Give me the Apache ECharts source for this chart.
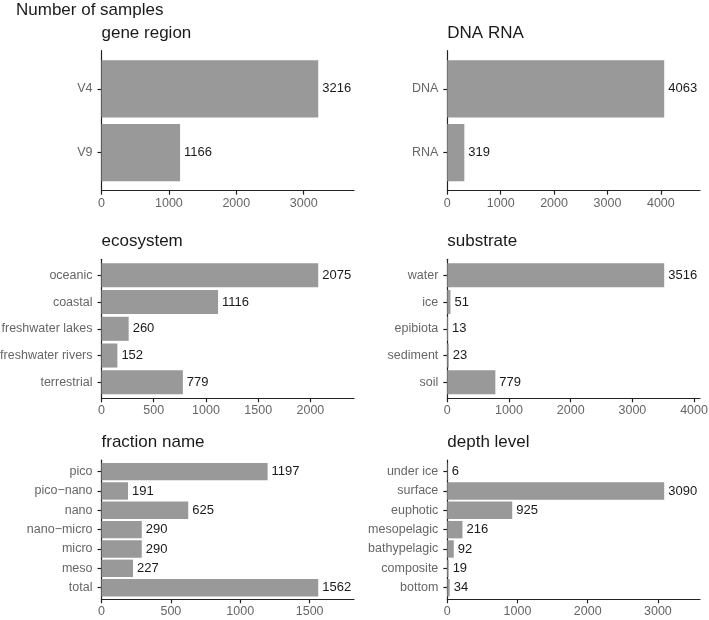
<!DOCTYPE html>
<html>
<head>
<meta charset="utf-8">
<script src="https://cdn.jsdelivr.net/npm/echarts@6/dist/echarts.min.js"></script>
<style>html,body{margin:0;padding:0;background:#fff}#c{width:709px;height:620px}</style>
</head>
<body>
<div id="c"></div>
<script>
// ---- data ----
const mainTitle = "Number of samples";
const panelTitles = ["gene region", "DNA RNA", "ecosystem", "substrate", "fraction name", "depth level"];

const geneRegionCats = ["V4", "V9"];
const geneRegionVals = [3216, 1166];

const dnaRnaCats = ["DNA", "RNA"];
const dnaRnaVals = [4063, 319];

const ecosystemCats = ["oceanic", "coastal", "freshwater lakes", "freshwater rivers", "terrestrial"];
const ecosystemVals = [2075, 1116, 260, 152, 779];

const substrateCats = ["water", "ice", "epibiota", "sediment", "soil"];
const substrateVals = [3516, 51, 13, 23, 779];

const fractionCats = ["pico", "pico\u2212nano", "nano", "nano\u2212micro", "micro", "meso", "total"];
const fractionVals = [1197, 191, 625, 290, 290, 227, 1562];

const depthCats = ["under ice", "surface", "euphotic", "mesopelagic", "bathypelagic", "composite", "bottom"];
const depthVals = [6, 3090, 925, 216, 92, 19, 34];

const tickIntervals = [1000, 1000, 500, 1000, 500, 1000];

// ---- layout ----
const panels = [
  {cats: geneRegionCats, vals: geneRegionVals},
  {cats: dnaRnaCats, vals: dnaRnaVals},
  {cats: ecosystemCats, vals: ecosystemVals},
  {cats: substrateCats, vals: substrateVals},
  {cats: fractionCats, vals: fractionVals},
  {cats: depthCats, vals: depthVals}
];
const lefts = [101.5, 447.3];
const widths = [252.5, 252.7];
const tops = [50.7, 259.3, 460];
const heights = [140, 139, 139.3];

const FONT = "'Liberation Sans', Arial, sans-serif";
const grids = [], xAxes = [], yAxes = [], series = [], titles = [];

titles.push({text: mainTitle, left: 16, top: 2, padding: 0,
  textStyle: {fontFamily: FONT, fontSize: 17, fontWeight: 'normal', color: '#1a1a1a'}});

panels.forEach((p, k) => {
  const col = k % 2, row = Math.floor(k / 2);
  grids.push({left: lefts[col], top: tops[row], width: widths[col], height: heights[row],
    containLabel: false, outerBoundsMode: 'none'});
  titles.push({text: panelTitles[k], left: lefts[col], top: tops[row] - 26, padding: 0,
    textStyle: {fontFamily: FONT, fontSize: 17, fontWeight: 'normal', color: '#1a1a1a'}});
  const maxV = Math.max(...p.vals) * 1.165;
  const iv = tickIntervals[k];
  const ticks = [];
  for (let v = 0; v <= maxV; v += iv) ticks.push(v);
  xAxes.push({
    type: 'value', gridIndex: k, min: 0, max: maxV,
    axisLine: {show: true, lineStyle: {color: '#222', width: 1.2}},
    axisTick: {show: true, length: 4, customValues: ticks, lineStyle: {color: '#222', width: 1.2}},
    axisLabel: {customValues: ticks, margin: 6, color: '#666', fontSize: 12.5, fontFamily: FONT,
      formatter: v => String(Math.round(v))},
    splitLine: {show: false}
  });
  const idx = p.cats.map((c, i) => i + 1);
  yAxes.push({
    type: 'value', gridIndex: k, inverse: true, min: 0.4, max: p.cats.length + 0.6,
    axisLine: {show: true, lineStyle: {color: '#222', width: 1.2}},
    axisTick: {show: true, length: 4, customValues: idx, lineStyle: {color: '#222', width: 1.2}},
    axisLabel: {customValues: idx, margin: 9, color: '#666', fontSize: 12.5, fontFamily: FONT,
      formatter: v => p.cats[Math.round(v) - 1] || ''},
    splitLine: {show: false}
  });
  series.push({
    type: 'custom', xAxisIndex: k, yAxisIndex: k,
    data: p.vals.map((v, i) => [v, i + 1]),
    encode: {x: 0, y: 1},
    renderItem: (params, api) => {
      const v = api.value(0), c = api.value(1);
      const a = api.coord([0, c - 0.45]);
      const b = api.coord([v, c + 0.45]);
      return {
        type: 'rect',
        shape: {x: a[0], y: Math.min(a[1], b[1]), width: b[0] - a[0], height: Math.abs(b[1] - a[1])},
        style: {fill: '#999999'},
        textContent: {style: {text: String(v), fill: '#1a1a1a', fontSize: 13, fontFamily: FONT}},
        textConfig: {position: 'right', distance: 4}
      };
    }
  });
});

const chart = echarts.init(document.getElementById('c'), null, {renderer: 'canvas'});
chart.setOption({
  animation: false,
  backgroundColor: '#fff',
  title: titles,
  grid: grids,
  xAxis: xAxes,
  yAxis: yAxes,
  series: series
});
</script>
</body>
</html>
